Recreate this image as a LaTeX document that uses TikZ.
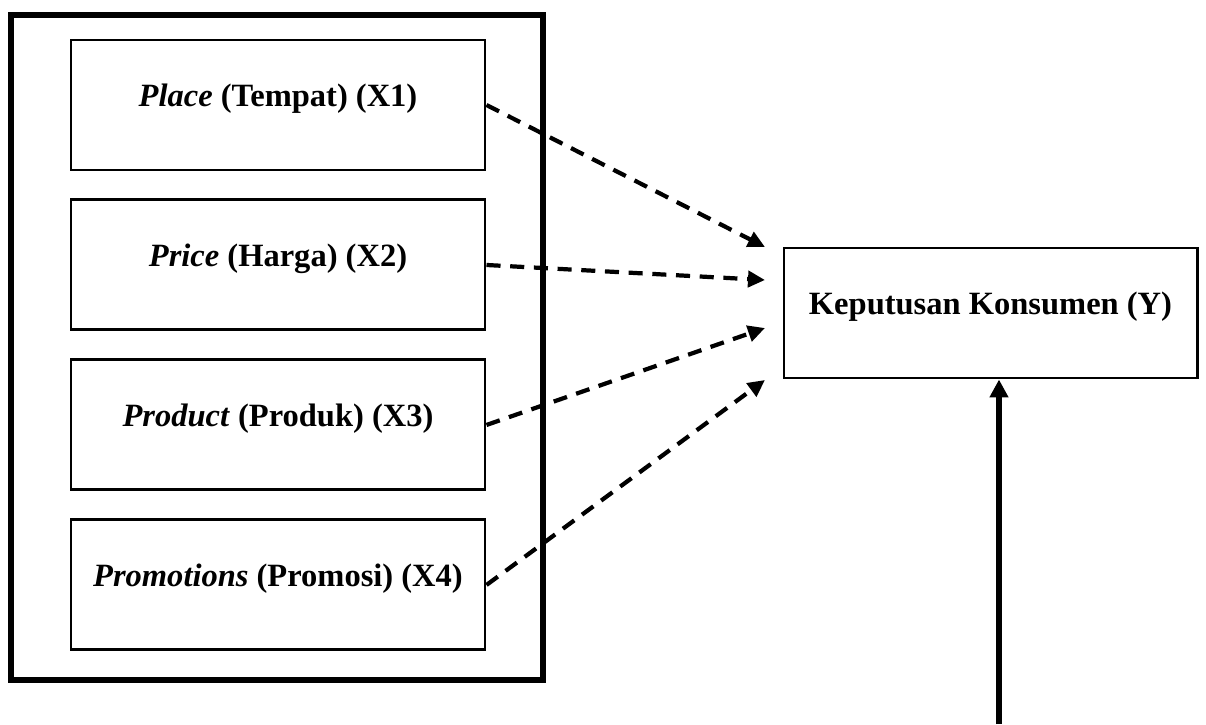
\documentclass[tikz,border=0pt]{standalone}
\usepackage{fontspec}
\setmainfont{Liberation Serif}
\usetikzlibrary{positioning,arrows.meta}

\begin{document}
\begin{tikzpicture}[varbox/.style={draw,line width=1.7pt,minimum width=8.28cm,minimum height=2.6cm,text depth=0.4cm,font=\fontsize{18.5}{22}\selectfont\bfseries},
  dasharrow/.style={line width=2.4pt,dash pattern=on 8pt off 5.5pt,-{Triangle[length=0.34cm,width=0.32cm]}},
  node distance=0.54cm]
  \useasboundingbox (0,0) rectangle (24.12,14.48);

  % outer frame round the four variables
  \draw [line width=3.4pt] (0.22,0.88) rectangle (10.86,14.18);

  \node [varbox] (x1) at (5.56,12.38) {\textit{Place} (Tempat) (X1)};
  \node [varbox,below=of x1] (x2) {\textit{Price} (Harga) (X2)};
  \node [varbox,below=of x2] (x3) {\textit{Product} (Produk) (X3)};
  \node [varbox,below=of x3] (x4) {\textit{Promotions} (Promosi) (X4)};

  \node [varbox,minimum width=8.26cm] (y) at (19.81,8.22) {Keputusan Konsumen (Y)};

  % arrow ends left of the Y box
  \coordinate (t1) at (15.3,9.54);
  \coordinate (t2) at (15.3,8.88);
  \coordinate (t3) at (15.3,7.92);
  \coordinate (t4) at (15.3,6.88);
  \coordinate (yin) at (19.98,0);

  \foreach \i in {1,...,4}
    \draw [dasharrow] (x\i.east) -- (t\i);

  \draw [line width=3pt,-{Triangle[length=0.36cm,width=0.36cm]}] (yin) -- (yin |- y.south);
\end{tikzpicture}
\end{document}
